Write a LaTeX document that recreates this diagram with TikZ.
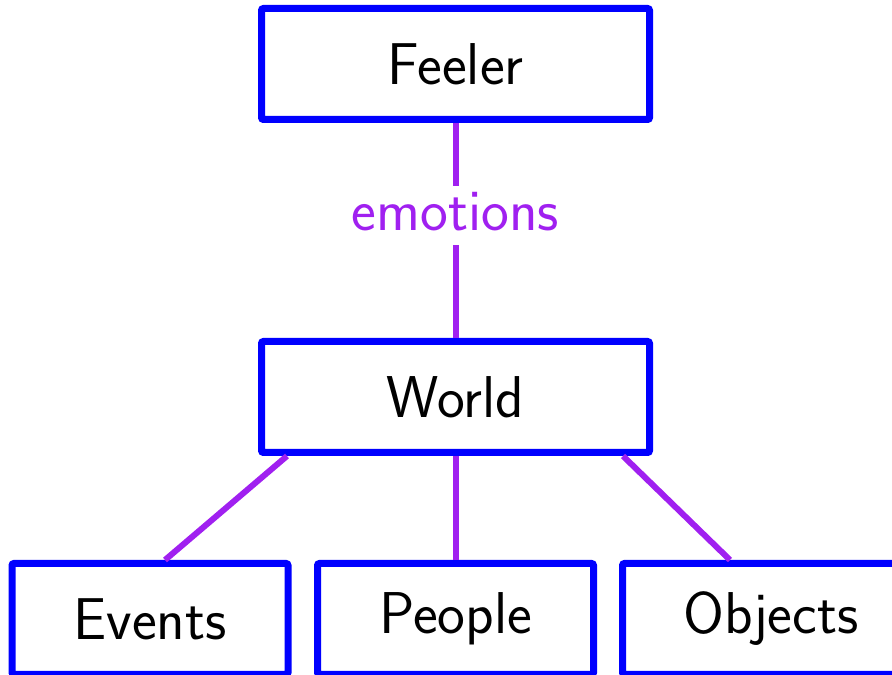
\documentclass[tikz,border=0pt]{standalone}
\usetikzlibrary{calc}
\definecolor{boxblue}{RGB}{0,0,255}
\definecolor{linkpurple}{RGB}{160,32,240}
\begin{document}
\begin{tikzpicture}[x=1pt,y=1pt,
  box/.style={draw=boxblue, line width=7pt, rounded corners=2pt, fill=white,
    minimum width=388pt, minimum height=111pt, inner sep=0pt,
    font=\fontsize{59}{66}\selectfont\sffamily},
  leaf/.style={box, minimum width=276pt},
  link/.style={draw=linkpurple, line width=6pt},
  linklabel/.style={fill=white, text=linkpurple, inner sep=0pt,
    text height=45pt, text depth=14pt,
    font=\fontsize{59}{66}\selectfont\sffamily}]
  \useasboundingbox (0,0) rectangle (892,675);
  \node[box] (feeler) at (455.5,611) {Feeler};
  \node[box] (world) at (455.5,278) {World};
  \node[leaf] (events) at (150,56) {Events};
  \node[leaf] (people) at (455.5,56) {People};
  \node[leaf, minimum width=297pt] (objects) at (771,56) {Objects};
  \draw[link] (feeler.south) -- node[linklabel, pos=0.43] {emotions} (world.north);
  \draw[link] ($(world.south west)+(29,0)$) -- ($(events.north)+(15,0)$);
  \draw[link] (world.south) -- (people.north);
  \draw[link] ($(world.south east)+(-30,0)$) -- ($(objects.north)+(-41,0)$);
\end{tikzpicture}
\end{document}
